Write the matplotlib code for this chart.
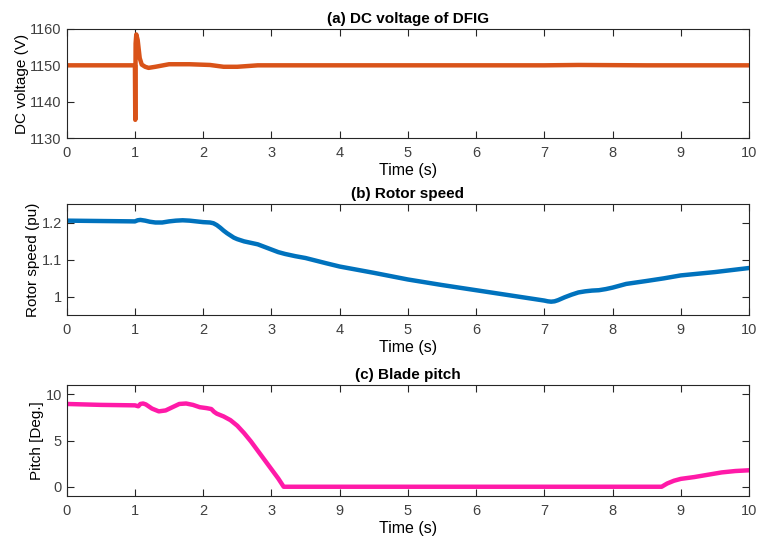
import matplotlib
matplotlib.use("Agg")
import matplotlib.pyplot as plt

plt.rcParams['font.family'] = ['Liberation Sans', 'DejaVu Sans']
plt.rcParams['font.size'] = 10.5

# (a) DC voltage of DFIG
t_dc = [0, 0.5, 1.0, 1.005, 1.01, 1.02, 1.04, 1.07, 1.1, 1.15, 1.2, 1.3,
        1.5, 1.8, 2.1, 2.3, 2.5, 2.8, 3.5, 5, 7, 7.5, 8.5, 10]
v_dc = [1150, 1150, 1150, 1135, 1156, 1158.5, 1157, 1152, 1150.2, 1149.6,
        1149.3, 1149.6, 1150.3, 1150.3, 1150.1, 1149.6, 1149.6, 1150, 1150,
        1150, 1150, 1150.1, 1150, 1150]

# (b) Rotor speed
t_w = [0, 1.0, 1.04, 1.08, 1.15, 1.22, 1.3, 1.4, 1.5, 1.6, 1.7, 1.8, 1.9,
       2.0, 2.1, 2.15, 2.2, 2.25, 2.3, 2.35, 2.4, 2.45, 2.5, 2.55, 2.6, 2.7,
       2.8, 2.9, 3.0, 3.1, 3.2, 3.35, 3.5, 3.65, 3.8, 4.0, 4.5, 5.0, 5.5,
       6.0, 6.5, 7.0, 7.05, 7.1, 7.15, 7.2, 7.3, 7.4, 7.5, 7.6, 7.7, 7.8,
       7.9, 8.0, 8.1, 8.2, 8.35, 8.5, 8.75, 9.0, 9.5, 10]
w_r = [1.205, 1.203, 1.206, 1.207, 1.205, 1.202, 1.200, 1.200, 1.203,
       1.205, 1.206, 1.205, 1.203, 1.201, 1.200, 1.198, 1.193, 1.186, 1.178,
       1.171, 1.165, 1.159, 1.155, 1.152, 1.149, 1.145, 1.141, 1.134, 1.127,
       1.120, 1.115, 1.109, 1.104, 1.097, 1.090, 1.081, 1.064, 1.046, 1.031,
       1.017, 1.003, 0.989, 0.987, 0.986, 0.987, 0.990, 0.998, 1.005, 1.011,
       1.014, 1.016, 1.017, 1.020, 1.024, 1.029, 1.034, 1.038, 1.042, 1.049,
       1.057, 1.066, 1.077]

# (c) Blade pitch
t_p = [0, 0.5, 1.0, 1.05, 1.08, 1.12, 1.16, 1.25, 1.35, 1.45, 1.55, 1.65,
       1.75, 1.85, 1.95, 2.05, 2.12, 2.16, 2.2, 2.3, 2.4, 2.5, 2.6, 2.7,
       2.8, 2.9, 3.0, 3.1, 3.18, 5, 7, 8.72, 8.8, 8.9, 9.0, 9.2, 9.4, 9.6,
       9.8, 10]
pitch = [8.95, 8.85, 8.8, 8.7, 8.95, 9.0, 8.9, 8.45, 8.15, 8.25, 8.6, 8.95,
         9.0, 8.85, 8.6, 8.5, 8.4, 8.1, 7.9, 7.6, 7.2, 6.6, 5.8, 4.9, 3.9,
         2.9, 1.9, 0.9, 0, 0, 0, 0, 0.35, 0.65, 0.85, 1.05, 1.3, 1.55, 1.7,
         1.78]

x_ticks = list(range(11))
x_labels_c = ['0', '1', '2', '3', '9', '5', '6', '7', '8', '9', '10']

fig = plt.figure(figsize=(7.61, 5.38), dpi=100)
W, H = 761, 538
rects = [(66.7, 29, 749, 138), (66.7, 204, 749, 315), (66.7, 385, 749, 496)]
axes = []
for x0, y0, x1, y1 in rects:
    axes.append(fig.add_axes([x0 / W, 1 - y1 / H, (x1 - x0) / W, (y1 - y0) / H]))

ax1, ax2, ax3 = axes
ax1.plot(t_dc, v_dc, color='#D95319', lw=3.2)
ax1.set_ylim(1130, 1160)
ax1.set_yticks([1130, 1140, 1150, 1160])
ax1.set_ylabel('DC voltage (V)', fontsize=11, labelpad=1)
ax1.set_title('(a) DC voltage of DFIG', fontweight='bold', fontsize=11, pad=4.5)

ax2.plot(t_w, w_r, color='#0072BD', lw=3.2)
ax2.set_ylim(0.95, 1.25)
ax2.set_yticks([1, 1.1, 1.2])
ax2.set_yticklabels(['1', '1.1', '1.2'])
ax2.set_ylabel('Rotor speed (pu)', fontsize=11, labelpad=1)
ax2.set_title('(b) Rotor speed', fontweight='bold', fontsize=11, pad=4.5)

ax3.plot(t_p, pitch, color='#FF1AA8', lw=3.2)
ax3.set_ylim(-1, 11)
ax3.set_yticks([0, 5, 10])
ax3.set_ylabel('Pitch [Deg.]', fontsize=11, labelpad=1)
ax3.set_title('(c) Blade pitch', fontweight='bold', fontsize=11, pad=4.5)

for ax in axes:
    ax.set_xlim(0, 10)
    ax.set_xticks(x_ticks)
    ax.set_xlabel('Time (s)', fontsize=11.5, labelpad=2)
    ax.tick_params(direction='in', top=True, right=True, length=5,
                   colors='#262626', labelcolor='#404040', labelsize=10.5)
    ax.tick_params(axis='x', pad=6)
    for s in ax.spines.values():
        s.set_color('#262626')
        s.set_linewidth(0.8)
ax3.set_xticklabels(x_labels_c)

fig.savefig('out.png', dpi=100)
